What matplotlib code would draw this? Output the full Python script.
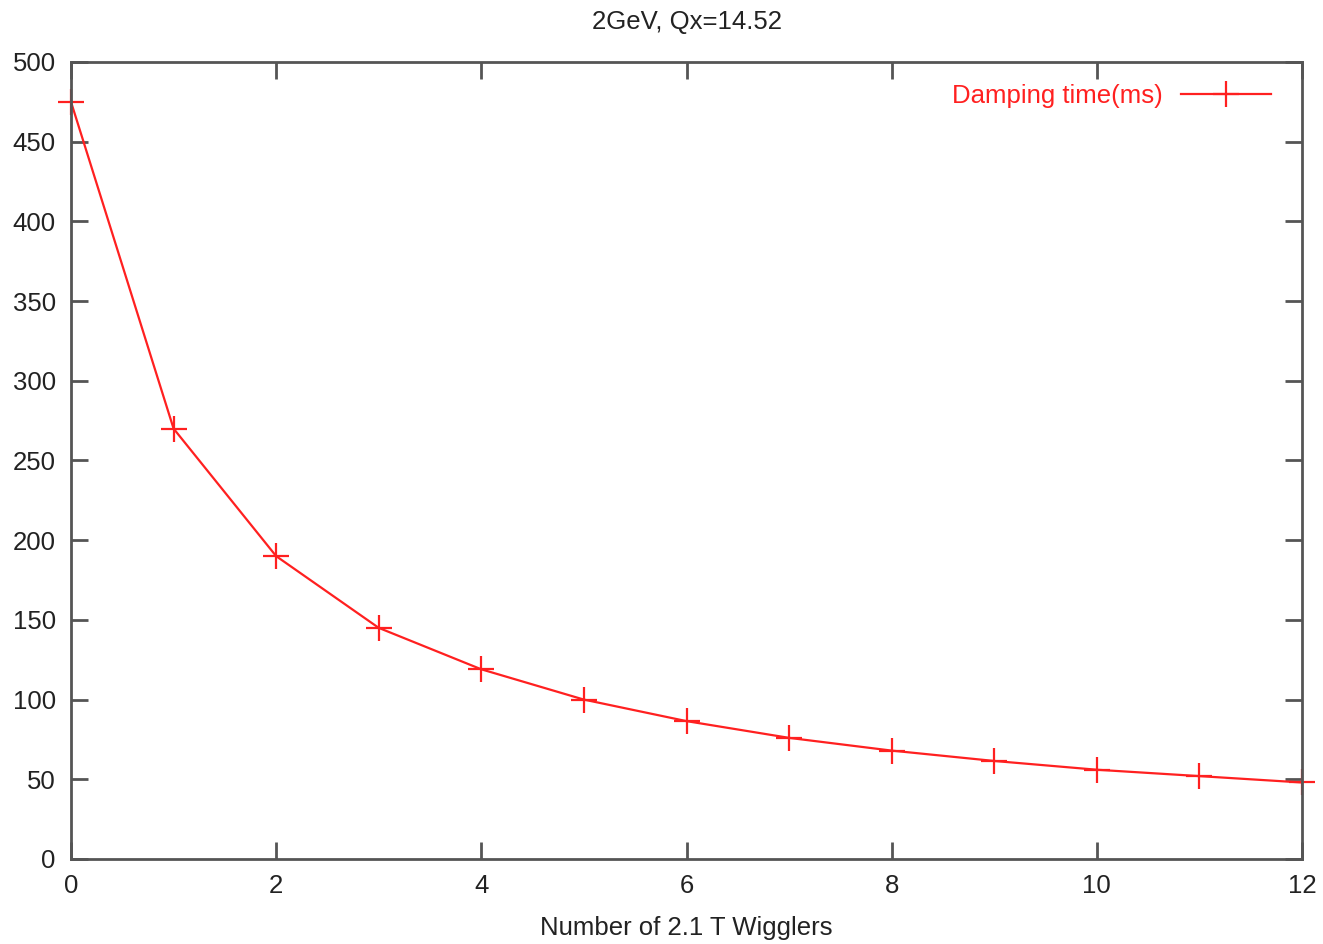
import numpy as np
import matplotlib.pyplot as plt
from matplotlib.ticker import MultipleLocator

plt.rcParams['font.family'] = ['Liberation Sans', 'DejaVu Sans']

# Tempo de amortecimento em função do número de wigglers
n_wigglers = [0, 1, 2, 3, 4, 5, 6, 7, 8, 9, 10, 11, 12]
damping_ms = [475, 270, 190, 145, 119, 100, 86.5, 76, 68, 61.5, 56, 52, 48]

fig = plt.figure(figsize=(13.23, 9.44), dpi=100)
ax = fig.add_axes([71/1323, 1 - 859/944, (1302-71)/1323, (859-62)/944])

ax.plot(n_wigglers, damping_ms, color='#ff2020', lw=1.6, marker='+',
        ms=19, mew=1.6, label='Damping time(ms)', clip_on=False)

ax.set_xlim(0, 12)
ax.set_ylim(0, 500)
ax.xaxis.set_major_locator(MultipleLocator(2))
ax.yaxis.set_major_locator(MultipleLocator(50))

for s in ax.spines.values():
    s.set_color('#555555')
    s.set_linewidth(2)
ax.tick_params(direction='in', length=12, width=2, color='#555555',
               top=True, right=True, labelsize=18.5, labelcolor='#222222')
ax.tick_params(axis='y', pad=11)
ax.tick_params(axis='x', pad=11)

ax.set_title('2GeV, Qx=14.52', fontsize=18.5, color='#222222', pad=24)
ax.set_xlabel('Number of 2.1 T Wigglers', fontsize=18.5, color='#222222', labelpad=13)

leg = ax.legend(loc='upper right', bbox_to_anchor=(0.983, 0.985), frameon=False,
                fontsize=18.5, markerfirst=False, handlelength=3.5,
                handletextpad=0.7, borderaxespad=0, labelcolor='#ff2020')

fig.savefig('out.png', dpi=100, facecolor='white')
